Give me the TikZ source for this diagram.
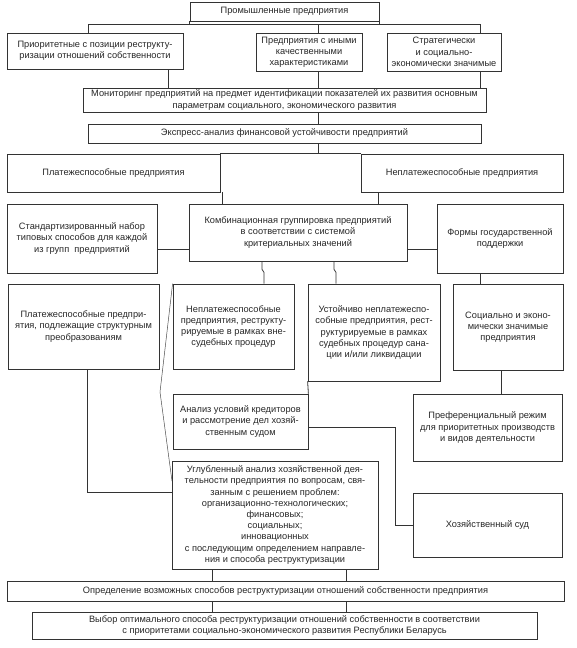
\documentclass[tikz,border=0pt]{standalone}
\usepackage{fontspec}
\setmainfont{Liberation Sans}
\begin{document}
\begin{tikzpicture}[x=1pt,y=-1pt,
  box/.style={draw=black!80, line width=0.8pt, align=center, inner sep=1pt,
    font=\fontsize{9.25}{11.2}\selectfont, text=black!85},
  ln/.style={draw=black!80, line width=0.8pt},
  thinln/.style={draw=black!70, line width=0.5pt}]
\useasboundingbox (0,0) rectangle (576,648);
% boxes
\node[box, minimum width=189pt, minimum height=19pt] (top) at (284.5,11.5) {Промышленные предприятия};
\node[box, minimum width=176pt, minimum height=36pt] (b2L) at (95,51) {Приоритетные с позиции реструкту-\\ризации отношений собственности};
\node[box, minimum width=106pt, minimum height=38pt] (b2M) at (309,52) {Предприятия с иными\\качественными\\характеристиками};
\node[box, minimum width=114pt, minimum height=38pt] (b2R) at (444,52) {Стратегически\\и социально-\\экономически значимые};
\node[box, minimum width=403pt, minimum height=24pt] (mon) at (284.5,100) {Мониторинг предприятий на предмет идентификации показателей их развития основным\\параметрам социального, экономического развития};
\node[box, minimum width=393pt, minimum height=19pt] (expr) at (284.5,133.5) {Экспресс-анализ финансовой устойчивости предприятий};
\node[box, minimum width=213pt, minimum height=38pt] (plat) at (113.5,173) {Платежеспособные предприятия};
\node[box, minimum width=202pt, minimum height=38pt] (neplat) at (462,173) {Неплатежеспособные предприятия};
\node[box, minimum width=150pt, minimum height=69pt] (std) at (82,238.5) {Стандартизированный набор\\типовых способов для каждой\\из групп\ \ предприятий};
\node[box, minimum width=218pt, minimum height=57pt] (comb) at (298,232.5) {Комбинационная группировка предприятий\\в соответствии с системой\\критериальных значений};
\node[box, minimum width=126pt, minimum height=69pt] (forms) at (500,238.5) {Формы государственной\\поддержки};
\node[box, minimum width=151pt, minimum height=85pt] (r4a) at (83.5,326.5) {Платежеспособные предпри-\\ятия, подлежащие структурным\\преобразованиям};
\node[box, minimum width=121pt, minimum height=85pt] (r4b) at (233.5,326.5) {Неплатежеспособные\\предприятия, реструкту-\\рируемые в рамках вне-\\судебных процедур};
\node[box, minimum width=132pt, minimum height=97pt] (r4c) at (374,332.5) {Устойчиво неплатежеспо-\\собные предприятия, рест-\\руктурируемые в рамках\\судебных процедур сана-\\ции и/или ликвидации};
\node[box, minimum width=110pt, minimum height=86pt] (r4d) at (508,327) {Социально и эконо-\\мически значимые\\предприятия};
\node[box, minimum width=135pt, minimum height=55pt] (anal) at (240.5,421.5) {Анализ условий кредиторов\\и рассмотрение дел хозяй-\\ственным судом};
\node[box, minimum width=149pt, minimum height=67pt] (pref) at (487.5,427.5) {Преференциальный режим\\для приоритетных производств\\и видов деятельности};
\node[box, minimum width=206pt, minimum height=108pt] (ugl) at (275,515) {Углубленный анализ хозяйственной дея-\\тельности предприятия по вопросам, свя-\\занным с решением проблем:\\организационно-технологических;\\финансовых;\\социальных;\\инновационных\\с последующим определением направле-\\ния и способа реструктуризации};
\node[box, minimum width=149pt, minimum height=64pt] (hoz) at (487.5,525) {Хозяйственный суд};
\node[box, minimum width=557pt, minimum height=20pt] (opr) at (285.5,591) {Определение возможных способов реструктуризации отношений собственности предприятия};
\node[box, minimum width=505pt, minimum height=27pt] (vyb) at (284.5,625.5) {Выбор оптимального способа реструктуризации отношений собственности в соответствии\\с приоритетами социально-экономического развития Республики Беларусь};
% guide coordinates
\coordinate (h1) at (88,24);
\coordinate (h2) at (480,24);
\coordinate (h3) at (318,24);
\foreach \x in {87,168,212,222,262,264,318,334,336,346,378,480,501}
  \coordinate (g\x) at (\x,0);
\coordinate (d1) at (160,392);
\coordinate (d2) at (172,481);
\coordinate (e1) at (0,492);
\coordinate (hl) at (0,249);
\coordinate (f1) at (395,427);
\coordinate (f2) at (395,525);
% connectors
\draw[ln] (h1) -- (h2);
\draw[ln] (top.south west) -- (top.south west |- h1);
\draw[ln] (top.south east) -- (top.south east |- h1);
\draw[ln] (h1) -- (h1 |- b2L.north);
\draw[ln] (h3) -- (h3 |- b2M.north);
\draw[ln] (h2) -- (h2 |- b2R.north);
\draw[ln] (b2L.south -| g168) -- (mon.north -| g168);
\draw[ln] (b2M.south -| g318) -- (mon.north -| g318);
\draw[ln] (b2R.south -| g480) -- (mon.north -| g480);
\draw[ln] (mon.south -| g318) -- (expr.north -| g318);
\draw[ln] (expr.south -| g318) -- (plat.north -| g318);
\draw[ln] (plat.north east) -- (neplat.north west);
\draw[ln] (plat.south -| g222) -- (comb.north -| g222);
\draw[ln] (neplat.south -| g378) -- (comb.north -| g378);
\draw[ln] (std.east |- hl) -- (comb.west |- hl);
\draw[ln] (comb.east |- hl) -- (forms.west |- hl);
\draw[ln] (comb.south -| g262) -- ++(0,8) -- ++(2,3) -- (r4b.north -| g264);
\draw[ln] (comb.south -| g334) -- ++(0,8) -- ++(2,3) -- (r4c.north -| g336);
\draw[ln] (forms.south -| g480) -- (r4d.north -| g480);
\draw[thinln] (r4b.north west) -- (d1) -- (d2);
\draw[ln] (r4a.south -| g87) |- (ugl.west |- e1);
\draw[ln] (r4c.south west) -- (anal.north east);
\draw[ln] (anal.east |- f1) -- (f1) -- (f2) -- (hoz.west |- f2);
\draw[ln] (r4d.south -| g501) -- (pref.north -| g501);
\draw[ln] (ugl.south -| g212) -- (opr.north -| g212);
\draw[ln] (ugl.south -| g346) -- (opr.north -| g346);
\draw[ln] (opr.south -| g212) -- (vyb.north -| g212);
\draw[ln] (opr.south -| g346) -- (vyb.north -| g346);
\end{tikzpicture}
\end{document}
